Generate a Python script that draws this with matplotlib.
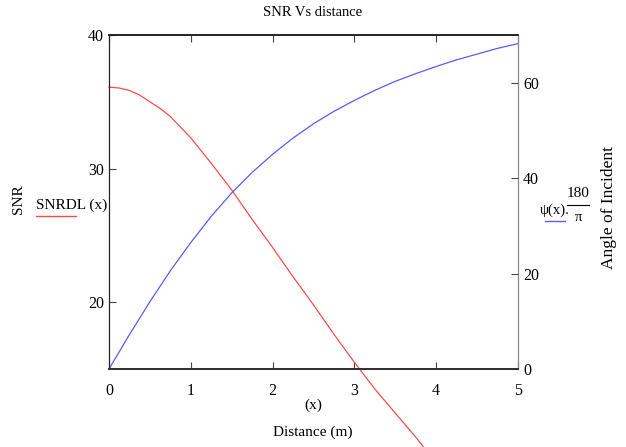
import matplotlib.pyplot as plt

# SNR curve (left axis)
x_snr = [0, 0.125, 0.25, 0.375, 0.5, 0.625, 0.75, 1.0, 1.25, 1.5, 1.75, 2.0, 2.25, 2.5, 2.75,
         3.0, 3.25, 3.5, 3.75, 3.84]
snr = [36.1, 36.03, 35.85, 35.5, 35.0, 34.5, 33.9, 32.3, 30.4, 28.4, 26.2, 24.1, 21.9, 19.8, 17.6,
       15.5, 13.5, 11.7, 9.9, 9.2]

# angle of incidence curve (right axis)
x_ang = [0, 0.25, 0.5, 0.75, 1.0, 1.25, 1.5, 1.75, 2.0, 2.25, 2.5, 2.75, 3.0, 3.25, 3.5,
         3.75, 4.0, 4.25, 4.5, 4.75, 5.0]
angle = [0, 7.2, 14.1, 20.6, 26.5, 32.0, 36.9, 41.2, 45.0, 48.4, 51.4, 54.0, 56.3, 58.4, 60.3,
         61.9, 63.4, 64.8, 66.0, 67.2, 68.2]

serif = 'Liberation Serif'
plt.rcParams['font.family'] = serif

fig = plt.figure(figsize=(6.26, 4.47), dpi=100)
ax = fig.add_axes([0.1741, 0.1745, 0.6534, 0.7472])

ax.plot(x_snr, snr, color='#ff4a4a', lw=0.9, clip_on=False)
ax.set_xlim(0, 5)
ax.set_ylim(15, 40)
ax.set_xticks([0, 1, 2, 3, 4, 5])
ax.set_yticks([20, 30, 40])
ax.tick_params(direction='in', length=5, labelsize=11.5, top=True, color='#444444')
ax.tick_params(axis='x', pad=10)

ax2 = ax.twinx()
ax2.plot(x_ang, angle, color='#5a5aff', lw=0.9)
ax2.set_ylim(0, 70)
ax2.set_yticks([0, 20, 40, 60])
ax2.tick_params(direction='in', length=5, labelsize=11.5, color='#444444')

for a in (ax, ax2):
    a.spines['left'].set_color('#222222')
    a.spines['bottom'].set_color('#333333')
    a.spines['bottom'].set_linewidth(1.4)
    a.spines['top'].set_color('#222222')
    a.spines['top'].set_linewidth(1.2)
    a.spines['right'].set_color('#888888')

fig.text(0.5, 0.973, 'SNR Vs distance', ha='center', va='center', fontsize=10.5)
fig.text(0.5, 0.094, '(x)', ha='center', va='center', fontsize=11)
fig.text(0.5, 0.034, 'Distance (m)', ha='center', va='center', fontsize=11)
fig.text(0.029, 0.555, 'SNR', rotation=90, ha='center', va='center', fontsize=11)
fig.text(0.057, 0.541, 'SNRDL (x)', ha='left', va='center', fontsize=11)
fig.add_artist(plt.Line2D([0.057, 0.121], [0.517, 0.517], color='#ff4a4a', lw=1))
fig.text(0.973, 0.535, 'Angle of Incident', rotation=90, ha='center', va='center',
         fontsize=12.5)
fig.text(0.862, 0.53, 'ψ(x).', ha='left', va='center', fontsize=10.5)
fig.text(0.924, 0.568, '180', ha='center', va='center', fontsize=11)
fig.add_artist(plt.Line2D([0.906, 0.941], [0.541, 0.541], color='black', lw=0.8))
fig.text(0.924, 0.513, 'π', ha='center', va='center', fontsize=10.5)
fig.add_artist(plt.Line2D([0.871, 0.903], [0.506, 0.506], color='#5a5aff', lw=1))

fig.savefig('out.png', dpi=100)
